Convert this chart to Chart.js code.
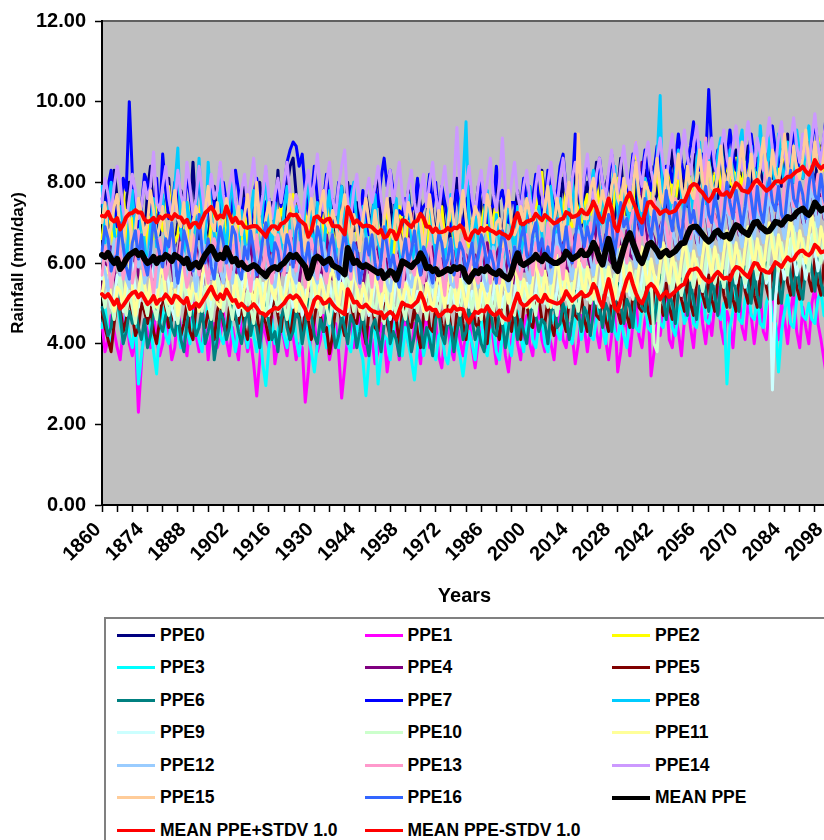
<!DOCTYPE html>
<html>
<head>
<meta charset="utf-8">
<script src="https://cdn.jsdelivr.net/npm/chart.js"></script>
<style>
html, body { margin: 0; padding: 0; overflow: hidden; background: #fff; width: 824px; height: 840px; }
#wrap { position: absolute; left: 0; top: 0; width: 850px; height: 615px; }
#legend { position: absolute; left: 104px; top: 617px; width: 760px; height: 240px; box-sizing: border-box;
  border: 2px solid #808080; background: #fff; padding-left: 11px; display: flex; flex-wrap: wrap; align-content: flex-start;
  font: bold 17.5px "Liberation Sans", Arial, sans-serif; color: #000; }
.item { width: 247.5px; height: 32.5px; display: flex; align-items: center; white-space: nowrap; }
.sw { display: inline-block; width: 38px; height: 3px; margin-right: 5px; }
</style>
</head>
<body>
<div id="wrap"><canvas id="myChart" width="850" height="615"></canvas></div>
<div id="legend"></div>
<script>
const firstYear = 1860
const lastYear = 2099

const seriesNames = ['PPE0', 'PPE1', 'PPE2', 'PPE3', 'PPE4', 'PPE5', 'PPE6', 'PPE7', 'PPE8', 'PPE9',
    'PPE10', 'PPE11', 'PPE12', 'PPE13', 'PPE14', 'PPE15', 'PPE16']
const seriesColors = ['#000080', '#FF00FF', '#FFFF00', '#00FFFF', '#800080', '#800000', '#008080', '#0000FF', '#00CCFF', '#CCFFFF',
    '#CCFFCC', '#FFFF99', '#99CCFF', '#FF99CC', '#CC99FF', '#FFCC99', '#3366FF']

const yTicks = [0, 2, 4, 6, 8, 10, 12]

const ppe0 = [
    7.4, 7.9, 6.8, 7.2, 8.3, 7.6, 6.9, 6.6, 7.5, 8.0, 7.7, 6.8, 7.1, 7.3, 6.5, 7.8, 8.4, 7.0, 7.2, 6.7,
    7.6, 7.3, 8.1, 6.9, 6.4, 7.0, 7.8, 7.5, 6.8, 7.2, 8.5, 7.1, 6.6, 7.4, 7.0, 6.3, 7.7, 7.9, 7.1, 6.9,
    7.2, 6.5, 7.6, 8.2, 7.4, 7.0, 6.7, 7.9, 7.3, 6.4, 7.1, 7.8, 8.0, 6.9, 7.2, 6.6, 7.5, 7.1, 8.3, 7.0,
    6.8, 7.9, 8.4, 8.6, 7.7, 7.1, 6.9, 7.5, 8.2, 7.0, 6.6, 7.4, 7.2, 7.8, 6.7, 7.0, 7.6, 6.5, 7.3, 7.9,
    7.1, 8.0, 7.3, 6.8, 7.5, 6.4, 7.0, 7.7, 7.2, 6.9, 7.8, 8.1, 7.0, 6.6, 7.3, 7.6, 6.8, 7.4, 7.0, 6.5,
    7.3, 7.8, 7.0, 6.7, 8.0, 7.4, 6.9, 7.1, 7.9, 7.2, 6.6, 7.5, 7.7, 6.8, 7.0, 6.4, 7.3, 8.1, 7.1, 6.9,
    7.6, 7.0, 6.5, 7.2, 7.9, 7.4, 6.8, 7.1, 6.6, 7.7, 8.2, 7.0, 6.7, 7.3, 7.5, 6.9, 7.2, 7.8, 6.8, 7.0,
    7.5, 7.9, 7.1, 6.8, 7.4, 8.3, 7.6, 7.0, 7.2, 7.8, 6.9, 7.5, 8.1, 7.3, 7.0, 7.7, 8.4, 7.2, 6.9, 7.6,
    8.0, 7.4, 7.7, 8.5, 7.3, 7.0, 7.9, 8.2, 7.5, 7.1, 7.8, 8.6, 7.6, 7.2, 7.4, 8.1, 7.8, 7.0, 7.6, 8.3,
    7.9, 8.4, 7.5, 7.7, 8.6, 8.0, 7.3, 7.8, 8.8, 8.1, 7.6, 8.3, 7.9, 7.4, 8.5, 8.7, 7.8, 8.0, 8.4, 7.7,
    8.2, 8.7, 8.0, 7.6, 8.4, 9.0, 8.3, 7.9, 8.1, 8.8, 8.5, 7.8, 8.2, 8.9, 8.0, 7.7, 8.6, 8.3, 8.0, 8.7,
    8.4, 8.1, 8.9, 8.3, 7.9, 8.6, 9.2, 8.2, 8.0, 8.7, 8.5, 8.1, 8.8, 9.0, 8.3, 8.0, 8.6, 8.9, 8.4, 8.2
]
const ppe1 = [
    4.5, 3.8, 4.1, 4.7, 4.3, 3.9, 3.6, 4.4, 4.9, 4.0, 3.7, 4.2, 2.3, 3.5, 4.6, 4.3, 3.9, 4.8, 4.1, 3.7,
    4.0, 4.6, 4.3, 3.6, 3.9, 4.8, 4.4, 4.1, 3.7, 4.5, 5.0, 4.2, 3.8, 4.0, 4.7, 3.6, 4.3, 4.5, 3.9, 4.2,
    4.8, 4.1, 3.7, 4.4, 4.0, 3.6, 4.6, 4.3, 3.8, 4.1, 3.5, 2.7, 3.6, 4.5, 4.2, 3.9, 4.7, 3.5, 4.0, 4.4,
    4.1, 3.7, 4.5, 4.2, 3.6, 4.0, 3.9, 2.55, 3.3, 4.4, 4.6, 3.8, 4.1, 4.7, 4.2, 3.6, 4.0, 4.5, 3.8, 2.65,
    3.4, 4.2, 4.6, 3.9, 4.3, 4.8, 4.0, 3.7, 4.4, 4.1, 3.5, 3.8, 4.5, 4.2, 3.3, 3.9, 4.7, 4.3, 3.6, 4.0,
    4.6, 4.0, 3.8, 4.5, 4.1, 3.5, 4.3, 4.7, 3.9, 4.0, 4.6, 3.7, 3.4, 4.2, 4.4, 3.9, 3.6, 4.5, 4.1, 3.7,
    4.3, 4.7, 3.9, 3.4, 4.0, 4.5, 4.2, 3.8, 4.6, 4.1, 3.5, 4.3, 4.4, 3.7, 3.3, 4.1, 4.6, 4.0, 3.6, 4.4,
    4.7, 4.0, 3.7, 4.5, 4.9, 4.1, 3.8, 4.3, 4.0, 3.6, 4.4, 4.8, 4.1, 3.9, 4.5, 4.2, 3.5, 4.0, 4.7, 4.4,
    3.8, 4.4, 5.0, 4.3, 3.9, 4.6, 4.1, 3.6, 4.2, 4.8, 3.3, 3.8, 4.6, 4.4, 3.7, 4.5, 5.1, 4.2, 3.9, 4.6,
    4.9, 3.2, 3.8, 4.5, 4.2, 4.8, 5.2, 4.1, 3.9, 4.7, 4.3, 3.7, 4.6, 5.0, 4.4, 3.9, 4.8, 5.3, 4.5, 4.0,
    4.7, 4.2, 5.0, 5.4, 4.4, 4.0, 4.8, 4.5, 3.9, 4.9, 5.3, 4.4, 4.1, 5.0, 4.7, 4.0, 4.6, 5.2, 4.3, 4.1,
    4.9, 5.4, 4.5, 4.1, 5.0, 4.6, 4.0, 4.8, 5.3, 4.3, 3.9, 4.9, 4.4, 4.0, 5.0, 5.4, 4.5, 4.1, 3.6, 3.1
]
const ppe2 = [
    6.6, 7.2, 7.5, 6.9, 6.3, 7.0, 7.4, 7.8, 6.7, 6.5, 7.1, 6.8, 7.6, 7.0, 6.4, 6.9, 7.3, 6.6, 7.7, 7.1,
    6.8, 7.4, 7.9, 7.0, 6.5, 6.7, 7.3, 7.1, 6.4, 7.5, 6.9, 6.6, 7.2, 7.6, 6.8, 6.3, 7.0, 7.4, 6.7, 6.9,
    7.3, 6.7, 6.4, 7.1, 7.5, 6.9, 6.6, 7.2, 6.5, 7.0, 7.6, 6.8, 6.3, 6.9, 7.4, 7.0, 6.6, 7.2, 6.8, 7.5,
    6.9, 6.4, 7.2, 7.7, 7.3, 6.8, 7.0, 6.5, 7.4, 6.7, 6.3, 7.1, 7.5, 6.9, 6.6, 7.3, 6.8, 6.4, 7.0, 7.6,
    7.0, 6.6, 6.9, 7.4, 6.7, 6.3, 7.1, 7.5, 6.8, 6.5, 7.2, 6.9, 6.4, 7.0, 7.3, 6.6, 6.2, 6.9, 7.4, 6.8,
    6.5, 7.1, 6.8, 6.3, 7.0, 7.3, 6.7, 6.4, 7.2, 6.9, 6.5, 7.0, 7.4, 6.6, 6.9, 7.2, 6.5, 6.3, 7.1, 6.8,
    6.7, 6.4, 7.0, 7.3, 6.6, 6.9, 7.4, 6.8, 6.5, 7.1, 7.5, 6.7, 6.4, 6.9, 7.3, 7.0, 6.6, 7.2, 6.8, 6.5,
    7.1, 7.5, 6.9, 7.3, 7.7, 8.25, 7.2, 6.8, 7.4, 7.0, 6.7, 7.5, 7.2, 7.8, 7.0, 6.9, 7.6, 7.3, 7.0, 7.4,
    7.7, 7.2, 7.5, 8.0, 7.4, 7.1, 7.8, 7.3, 7.0, 7.6, 8.1, 7.4, 7.2, 7.9, 7.5, 7.3, 9.0, 7.7, 7.4, 7.9,
    8.1, 7.5, 7.8, 8.3, 7.6, 7.4, 8.0, 8.4, 7.7, 7.5, 8.1, 7.8, 7.6, 8.3, 8.0, 7.6, 8.2, 8.6, 7.9, 7.7,
    8.3, 7.9, 8.2, 8.6, 7.8, 8.1, 8.5, 8.0, 7.9, 8.6, 8.2, 7.9, 8.5, 8.3, 8.9, 8.6, 8.1, 8.4, 8.7, 8.2,
    8.0, 8.5, 8.8, 8.2, 8.4, 8.9, 8.3, 8.1, 8.6, 9.0, 8.4, 8.2, 8.7, 8.5, 8.1, 8.8, 9.1, 8.5, 8.3, 8.7
]
const ppe3 = [
    4.4, 4.9, 4.3, 3.9, 4.6, 5.1, 4.5, 4.0, 4.8, 4.2, 3.9, 4.6, 3.0, 3.7, 4.3, 4.9, 4.4, 3.8, 3.25, 4.4,
    4.9, 4.2, 4.0, 4.7, 5.0, 4.3, 3.9, 4.6, 4.4, 4.0, 4.8, 4.5, 4.1, 3.8, 4.5, 5.0, 4.3, 4.0, 4.7, 4.2,
    4.0, 4.5, 4.8, 4.2, 3.8, 4.4, 4.9, 4.3, 3.9, 4.6, 4.2, 3.8, 4.4, 3.5, 2.96, 3.9, 4.6, 4.0, 4.3, 4.7,
    4.2, 3.9, 4.6, 4.9, 4.1, 3.7, 4.4, 4.8, 4.2, 3.8, 3.3, 4.0, 4.5, 4.3, 3.9, 4.6, 4.8, 4.1, 3.9, 4.5,
    4.7, 4.0, 3.8, 4.4, 4.5, 3.9, 3.6, 2.71, 3.6, 4.3, 4.4, 3.0, 3.7, 4.2, 4.1, 3.6, 4.3, 4.7, 4.0, 3.7,
    4.4, 4.0, 3.6, 3.1, 3.9, 4.4, 3.7, 4.1, 4.5, 3.8, 3.6, 4.2, 4.3, 3.7, 3.5, 4.1, 4.4, 4.0, 3.7, 3.2,
    3.8, 4.3, 4.0, 3.6, 4.4, 4.6, 3.9, 3.7, 4.3, 4.4, 3.8, 3.6, 4.2, 4.5, 4.0, 3.7, 4.5, 4.8, 4.2, 3.8,
    4.4, 4.8, 4.1, 3.9, 4.5, 4.6, 4.0, 3.8, 4.4, 4.7, 4.3, 4.1, 4.7, 4.9, 4.2, 4.0, 4.6, 4.8, 4.1, 4.5,
    4.8, 4.2, 4.1, 4.6, 5.0, 4.4, 4.0, 4.7, 4.9, 4.3, 4.1, 4.6, 4.2, 3.9, 4.7, 5.1, 4.4, 4.3, 4.9, 5.0,
    4.4, 4.3, 4.8, 5.2, 4.5, 4.4, 4.9, 5.1, 4.4, 4.2, 4.8, 5.0, 4.5, 4.7, 5.2, 4.5, 4.4, 5.0, 5.3, 4.6,
    4.5, 4.9, 5.4, 4.7, 4.6, 5.0, 3.0, 4.4, 4.8, 5.3, 4.6, 4.5, 5.1, 5.4, 4.7, 4.6, 5.1, 4.5, 4.4, 5.0,
    5.3, 4.6, 4.5, 3.3, 4.3, 4.8, 5.2, 4.5, 4.4, 5.1, 5.4, 4.7, 4.6, 5.0, 4.6, 4.5, 5.1, 5.3, 4.7, 4.6
]
const ppe4 = [
    5.3, 6.0, 5.7, 6.4, 5.9, 5.2, 5.8, 6.3, 6.1, 5.5, 5.9, 6.6, 5.7, 5.4, 6.2, 5.8, 6.0, 5.3, 5.9, 6.5,
    6.0, 5.6, 6.3, 5.9, 5.4, 6.1, 6.7, 5.8, 5.5, 6.0, 5.7, 6.4, 6.1, 5.4, 5.8, 6.2, 5.6, 6.0, 6.5, 5.7,
    5.5, 6.1, 6.4, 5.8, 5.6, 6.2, 5.9, 5.3, 6.0, 6.5, 5.8, 5.5, 6.3, 5.9, 5.6, 6.1, 6.6, 5.7, 5.4, 6.0,
    6.2, 5.7, 5.9, 6.6, 6.0, 5.5, 6.1, 5.8, 5.3, 6.2, 6.5, 5.9, 5.6, 6.0, 6.7, 6.1, 5.6, 6.2, 5.8, 5.4,
    6.0, 5.6, 5.8, 6.3, 6.5, 5.7, 5.4, 6.0, 5.9, 5.2, 5.8, 6.4, 5.9, 5.5, 6.1, 5.7, 5.3, 5.9, 6.3, 5.8,
    5.6, 6.2, 7.35, 6.3, 5.7, 5.9, 5.8, 5.2, 6.0, 6.4, 5.6, 5.5, 6.1, 5.7, 5.3, 5.9, 6.3, 5.8, 5.3, 6.1,
    6.2, 5.7, 5.6, 6.2, 5.8, 5.2, 6.0, 6.5, 5.7, 5.6, 6.2, 6.4, 5.8, 5.7, 6.3, 5.7, 5.5, 6.1, 6.3, 5.8,
    5.8, 6.3, 6.5, 5.9, 5.8, 6.4, 5.8, 5.7, 6.3, 6.6, 6.0, 5.9, 6.5, 5.9, 5.8, 6.4, 6.7, 6.1, 6.0, 6.6,
    6.2, 5.9, 6.4, 7.0, 6.2, 6.1, 6.7, 6.1, 6.0, 6.6, 6.9, 6.3, 6.2, 6.8, 6.2, 6.1, 6.7, 7.0, 8.5, 6.9,
    6.5, 6.8, 6.6, 6.1, 6.9, 7.1, 6.5, 6.4, 7.0, 6.4, 6.3, 6.9, 7.2, 6.6, 6.5, 7.1, 6.5, 6.4, 7.0, 7.3,
    6.7, 6.6, 7.2, 6.6, 6.5, 7.1, 7.4, 6.8, 6.7, 7.3, 6.7, 6.6, 7.2, 7.5, 6.9, 6.8, 7.4, 6.8, 6.7, 7.3,
    7.6, 7.0, 6.9, 7.5, 6.9, 6.8, 7.4, 7.7, 7.1, 7.0, 7.6, 7.0, 6.9, 7.5, 7.8, 7.2, 7.1, 7.7, 7.1, 7.0
]
const ppe5 = [
    4.8, 4.4, 4.1, 3.8, 4.5, 5.1, 4.9, 4.3, 4.6, 5.2, 4.7, 4.2, 4.4, 5.0, 4.8, 4.5, 4.9, 4.3, 4.0, 4.6,
    5.2, 4.9, 4.4, 4.6, 5.1, 4.7, 4.2, 4.5, 5.0, 4.3, 4.1, 4.9, 5.2, 4.6, 4.4, 4.8, 4.5, 4.1, 4.8, 5.1,
    4.5, 4.2, 4.9, 5.0, 4.6, 4.5, 5.0, 4.4, 4.1, 4.7, 5.3, 4.8, 4.2, 4.7, 4.5, 4.1, 4.8, 5.2, 4.7, 4.3,
    5.0, 4.6, 4.1, 4.7, 5.2, 4.7, 4.2, 4.8, 4.6, 4.1, 4.6, 5.1, 4.7, 4.3, 4.4, 3.75, 4.2, 4.9, 5.0, 4.5,
    4.2, 4.9, 5.1, 4.6, 4.5, 5.0, 4.4, 4.0, 4.8, 5.1, 4.4, 4.3, 4.9, 5.0, 4.5, 4.2, 5.0, 4.6, 4.0, 4.8,
    4.9, 4.5, 4.4, 4.9, 4.3, 3.9, 4.7, 5.1, 4.4, 4.3, 4.9, 5.0, 4.5, 4.2, 5.0, 4.4, 4.0, 4.8, 5.1, 4.5,
    4.1, 4.9, 5.0, 4.5, 4.4, 5.0, 4.6, 4.0, 4.8, 5.1, 4.4, 4.1, 4.9, 5.3, 4.6, 4.3, 5.0, 4.6, 4.1, 4.9,
    5.0, 4.5, 4.4, 5.0, 5.1, 4.6, 4.5, 5.1, 4.5, 4.2, 4.9, 5.3, 4.6, 4.3, 5.1, 5.2, 4.7, 4.6, 5.2, 4.6,
    4.3, 5.1, 5.2, 4.7, 4.6, 5.2, 4.6, 4.3, 5.1, 5.3, 4.8, 4.5, 5.3, 4.7, 4.4, 5.2, 5.4, 4.9, 4.8, 5.4,
    4.8, 4.5, 5.3, 5.5, 5.0, 4.7, 5.5, 4.9, 4.6, 5.4, 5.6, 5.1, 4.8, 5.6, 5.0, 4.7, 5.5, 5.7, 5.2, 4.9,
    5.7, 5.1, 4.8, 5.6, 5.8, 5.2, 4.9, 5.7, 5.1, 4.8, 5.6, 5.9, 5.3, 5.0, 5.8, 5.2, 4.9, 5.7, 6.0, 5.4,
    5.1, 5.9, 5.3, 5.0, 5.8, 6.1, 5.5, 5.2, 6.0, 5.4, 5.1, 5.9, 6.2, 5.6, 5.3, 6.1, 5.5, 5.2, 6.0, 6.3
]
const ppe6 = [
    4.9, 4.6, 4.2, 4.4, 5.1, 5.3, 4.7, 4.0, 4.3, 4.8, 4.5, 4.9, 4.4, 4.1, 4.6, 3.9, 4.2, 4.7, 5.0, 4.5,
    4.3, 4.7, 4.9, 4.4, 4.2, 4.8, 4.1, 3.8, 4.5, 5.0, 4.6, 4.2, 4.4, 4.9, 4.0, 4.3, 4.7, 3.6, 4.1, 4.8,
    4.6, 4.1, 4.4, 5.0, 4.7, 4.3, 4.0, 4.5, 4.9, 4.2, 4.6, 4.4, 3.9, 4.7, 5.1, 4.5, 4.1, 4.3, 3.8, 4.6,
    4.9, 4.4, 4.1, 4.3, 4.8, 4.6, 4.0, 4.5, 5.1, 4.7, 4.2, 4.0, 4.6, 4.3, 4.8, 5.0, 4.4, 3.9, 4.2, 4.7,
    4.4, 4.0, 4.7, 4.5, 3.9, 4.3, 4.8, 4.1, 3.7, 4.4, 4.6, 4.2, 3.8, 4.5, 4.9, 4.0, 4.3, 4.1, 3.7, 4.5,
    4.8, 4.4, 3.8, 4.2, 4.7, 4.5, 3.9, 4.4, 4.1, 3.7, 4.6, 4.8, 4.2, 4.0, 4.6, 4.4, 3.8, 4.3, 4.7, 4.1,
    4.3, 4.9, 4.6, 4.1, 4.4, 4.0, 3.8, 4.6, 5.0, 4.3, 4.2, 4.8, 4.5, 3.9, 4.4, 4.9, 4.7, 4.1, 4.6, 4.3,
    4.0, 4.6, 5.1, 4.7, 4.3, 4.6, 4.5, 4.0, 4.8, 5.0, 4.4, 4.5, 5.0, 4.7, 4.1, 4.6, 5.3, 4.8, 4.3, 4.9,
    4.7, 4.2, 4.8, 5.4, 4.9, 4.4, 5.0, 4.8, 4.3, 4.9, 5.5, 5.0, 4.5, 5.1, 4.9, 4.4, 5.2, 5.4, 4.9, 4.8,
    5.4, 4.8, 4.5, 5.1, 5.7, 5.1, 4.6, 5.2, 5.0, 4.5, 5.3, 5.6, 5.2, 4.7, 5.5, 5.1, 4.6, 5.4, 5.7, 5.3,
    4.8, 5.6, 5.2, 4.7, 5.5, 5.8, 5.4, 4.9, 5.7, 5.3, 4.8, 5.6, 5.9, 5.5, 5.0, 5.8, 5.2, 4.9, 5.7, 6.0,
    5.4, 5.1, 5.9, 5.5, 5.0, 5.8, 6.1, 5.7, 5.2, 6.0, 5.4, 5.1, 5.9, 6.2, 5.8, 5.3, 6.1, 5.5, 5.2, 5.8
]
const ppe7 = [
    7.6, 7.2, 7.9, 8.3, 7.5, 6.9, 7.1, 8.1, 7.8, 10.0, 8.2, 7.3, 6.9, 7.4, 8.2, 8.0, 7.2, 7.5, 8.1, 7.0,
    8.7, 7.8, 7.1, 7.3, 8.0, 7.6, 6.8, 7.2, 8.2, 7.7, 7.0, 7.5, 8.1, 7.4, 6.9, 7.3, 7.9, 7.5, 6.8, 7.4,
    8.0, 7.5, 7.0, 7.4, 8.3, 7.8, 7.1, 7.6, 7.2, 6.9, 7.7, 8.1, 7.4, 7.0, 7.5, 7.6, 6.9, 7.3, 8.0, 7.4,
    7.8, 8.5, 8.8, 9.0, 8.9, 8.4, 8.7, 7.8, 7.2, 7.6, 8.4, 7.6, 7.1, 7.5, 8.2, 7.5, 7.0, 7.3, 8.0, 7.4,
    6.9, 7.3, 7.9, 7.3, 6.8, 7.1, 7.8, 7.2, 6.7, 7.0, 7.9, 7.4, 8.1, 8.6, 7.9, 8.3, 7.8, 7.1, 7.3, 7.2,
    7.6, 7.1, 7.3, 7.4, 8.1, 7.2, 7.4, 7.5, 8.2, 7.4, 8.0, 7.2, 7.9, 7.5, 7.1, 6.8, 7.3, 7.8, 7.3, 6.9,
    7.2, 7.9, 7.3, 6.9, 7.3, 8.1, 7.5, 7.0, 7.4, 7.4, 8.4, 7.6, 7.8, 7.3, 7.0, 7.5, 7.5, 7.0, 7.4, 8.1,
    7.5, 7.0, 7.6, 8.2, 7.6, 7.1, 7.5, 8.3, 7.7, 7.3, 7.7, 8.4, 8.7, 7.8, 7.4, 7.8, 9.2, 7.9, 7.3, 8.1,
    8.5, 7.9, 7.5, 7.9, 8.6, 8.0, 7.6, 8.0, 8.7, 8.1, 7.7, 8.1, 7.9, 7.6, 8.0, 8.7, 8.1, 7.7, 8.2, 8.8,
    8.1, 7.8, 8.3, 8.9, 8.3, 7.9, 8.4, 8.4, 8.0, 8.5, 9.2, 8.5, 8.1, 8.5, 8.9, 9.5, 8.7, 8.3, 8.7, 8.5,
    10.3, 8.8, 8.3, 8.8, 8.7, 8.2, 8.6, 9.3, 8.7, 8.3, 8.7, 8.6, 8.2, 8.6, 9.2, 8.6, 8.3, 8.8, 8.8, 8.4,
    8.8, 9.4, 8.8, 8.4, 8.8, 8.7, 8.3, 8.7, 9.3, 8.7, 8.4, 8.9, 8.8, 8.5, 9.0, 9.5, 8.9, 8.6, 9.1, 9.9
]
const ppe8 = [
    7.9, 6.5, 7.2, 8.0, 6.8, 6.2, 7.4, 6.6, 5.9, 7.1, 7.8, 6.7, 6.1, 7.3, 6.5, 5.8, 6.9, 7.6, 6.4, 7.0,
    7.7, 6.6, 6.0, 7.2, 7.9, 8.85, 6.8, 6.2, 7.5, 7.0, 6.4, 7.3, 8.6, 7.1, 6.5, 8.5, 7.2, 6.7, 6.1, 8.4,
    6.9, 6.3, 7.5, 8.1, 6.8, 6.2, 7.3, 6.6, 6.0, 7.2, 7.8, 6.7, 6.1, 7.4, 8.3, 6.9, 6.3, 7.5, 6.8, 6.2,
    7.3, 7.9, 6.7, 6.1, 7.4, 6.8, 6.2, 7.6, 8.0, 6.9, 6.3, 7.5, 6.7, 6.1, 7.2, 7.8, 6.6, 6.0, 7.3, 7.9,
    6.8, 6.2, 7.6, 8.0, 6.9, 6.3, 7.4, 6.7, 6.0, 7.1, 7.7, 6.6, 6.0, 7.2, 6.5, 5.9, 7.0, 7.6, 6.4, 5.8,
    7.1, 7.7, 6.6, 6.0, 7.2, 6.5, 5.9, 7.0, 7.6, 6.8, 6.2, 7.3, 6.6, 6.0, 7.1, 7.7, 6.7, 6.1, 7.4, 8.0,
    9.5, 6.9, 6.3, 7.3, 6.6, 6.0, 7.1, 7.8, 6.7, 6.1, 7.2, 6.5, 5.9, 7.0, 7.6, 6.8, 6.2, 7.4, 6.7, 6.1,
    7.3, 7.9, 6.8, 6.2, 7.4, 6.7, 6.1, 7.3, 7.9, 7.0, 6.4, 7.6, 6.9, 6.3, 7.5, 8.1, 7.0, 6.5, 7.7, 7.1,
    6.6, 7.8, 8.3, 7.2, 6.7, 7.9, 7.2, 6.6, 7.8, 8.4, 7.3, 6.8, 8.0, 7.4, 6.8, 7.9, 8.5, 7.5, 6.9, 8.1,
    7.5, 6.9, 8.1, 8.6, 10.15, 7.0, 8.2, 7.6, 7.0, 8.3, 8.8, 7.7, 7.1, 8.4, 7.8, 7.2, 8.5, 9.0, 7.9, 7.3,
    8.6, 8.0, 7.4, 8.7, 9.1, 8.0, 7.5, 8.8, 8.2, 7.6, 8.9, 9.3, 8.1, 7.7, 8.9, 8.3, 7.7, 9.4, 8.4, 7.8,
    9.1, 8.4, 7.9, 9.2, 8.5, 7.9, 9.0, 8.6, 8.0, 9.3, 8.7, 8.1, 8.9, 9.4, 8.2, 8.6, 9.0, 8.3, 8.8, 9.2
]
const ppe9 = [
    5.6, 5.9, 5.3, 4.9, 5.1, 5.7, 5.4, 4.8, 5.2, 5.8, 6.0, 5.3, 4.9, 5.4, 5.1, 4.7, 5.5, 5.9, 5.2, 5.0,
    5.3, 5.8, 5.5, 4.9, 4.6, 5.2, 5.7, 5.9, 5.1, 4.8, 5.3, 5.6, 5.0, 5.4, 6.0, 5.5, 4.9, 5.1, 5.7, 5.3,
    4.9, 5.4, 5.8, 5.6, 5.0, 4.7, 5.3, 5.9, 5.4, 5.1, 5.6, 5.0, 4.8, 5.5, 5.2, 4.7, 5.1, 5.7, 5.5, 4.9,
    5.2, 5.7, 5.4, 4.9, 5.6, 5.3, 4.7, 5.0, 5.8, 5.5, 4.9, 5.2, 5.7, 5.4, 5.0, 5.5, 5.1, 4.8, 5.4, 5.9,
    5.3, 4.8, 5.2, 5.8, 5.5, 4.9, 5.3, 5.1, 4.7, 5.0, 5.6, 5.4, 4.8, 5.2, 5.1, 4.6, 5.0, 5.6, 5.3, 4.9,
    5.2, 5.7, 5.4, 4.9, 5.3, 5.1, 4.8, 5.2, 5.7, 5.3, 4.9, 5.2, 5.8, 5.4, 5.0, 5.4, 5.1, 4.8, 5.2, 5.7,
    5.4, 4.9, 5.3, 5.1, 4.7, 5.1, 5.7, 5.3, 4.8, 5.2, 5.8, 5.5, 4.9, 5.3, 5.2, 4.8, 5.2, 5.8, 5.4, 5.0,
    5.5, 5.2, 4.9, 5.3, 5.9, 5.5, 5.0, 5.4, 5.3, 4.9, 5.3, 5.9, 5.5, 5.1, 5.5, 5.3, 5.0, 5.4, 6.0, 5.6,
    5.1, 5.5, 5.4, 5.0, 5.4, 6.0, 5.6, 5.2, 5.6, 5.5, 5.1, 5.5, 6.1, 5.7, 5.2, 5.6, 5.5, 5.1, 5.6, 6.1,
    5.7, 5.3, 5.7, 5.6, 5.2, 5.6, 6.2, 5.8, 5.3, 5.7, 5.7, 5.2, 5.6, 6.2, 5.9, 5.4, 5.8, 5.8, 5.3, 5.7,
    6.3, 6.0, 5.5, 5.9, 5.8, 5.4, 5.8, 6.4, 6.0, 5.5, 5.9, 5.9, 5.4, 5.8, 6.5, 6.1, 5.6, 6.0, 6.0, 5.5,
    5.9, 2.85, 5.1, 6.0, 6.0, 5.6, 6.0, 6.6, 6.2, 5.7, 6.1, 6.1, 5.6, 6.0, 6.7, 6.3, 5.8, 6.2, 6.2, 5.7
]
const ppe10 = [
    5.3, 4.9, 5.5, 5.0, 4.6, 5.2, 5.7, 5.0, 4.7, 5.3, 4.9, 4.5, 5.1, 5.6, 5.0, 4.7, 5.4, 4.9, 4.6, 5.2,
    5.6, 5.0, 4.7, 5.3, 4.9, 4.5, 5.1, 5.6, 5.0, 4.7, 5.4, 5.8, 5.1, 4.8, 5.4, 5.0, 4.6, 5.2, 5.7, 5.1,
    4.8, 5.4, 5.0, 4.6, 5.2, 5.7, 5.1, 4.7, 5.3, 4.9, 4.5, 5.1, 5.6, 5.0, 4.7, 5.3, 5.8, 5.2, 4.8, 5.4,
    5.0, 4.6, 5.2, 5.7, 5.1, 4.8, 5.4, 5.0, 4.6, 5.2, 5.7, 5.1, 4.7, 5.3, 4.9, 4.5, 5.1, 5.6, 5.0, 4.7,
    5.3, 5.8, 5.2, 4.8, 5.4, 5.0, 4.6, 5.2, 5.7, 5.1, 4.7, 5.3, 4.9, 4.5, 5.1, 5.6, 5.0, 4.7, 5.3, 4.9,
    4.6, 5.2, 5.7, 5.1, 4.8, 5.4, 5.0, 4.6, 5.2, 5.7, 5.1, 4.7, 5.3, 4.9, 4.5, 5.1, 5.6, 5.0, 4.7, 5.3,
    5.8, 5.2, 4.8, 5.4, 5.0, 4.6, 5.2, 5.7, 5.1, 4.7, 5.3, 4.9, 4.5, 5.1, 5.6, 5.0, 4.7, 5.3, 5.8, 5.2,
    4.9, 5.5, 5.1, 4.7, 5.3, 5.8, 5.2, 4.9, 5.5, 5.1, 4.7, 5.3, 5.9, 5.3, 4.9, 5.5, 5.1, 4.8, 5.4, 5.9,
    5.3, 5.0, 5.6, 5.2, 4.9, 5.5, 6.0, 5.4, 5.0, 5.7, 5.3, 4.9, 5.6, 6.1, 5.5, 5.1, 5.8, 5.4, 5.0, 5.7,
    6.2, 5.6, 4.0, 3.8, 5.2, 5.8, 6.3, 5.7, 5.3, 6.0, 5.6, 5.2, 5.9, 6.4, 5.8, 5.4, 6.1, 5.7, 5.3, 6.0,
    6.5, 5.9, 5.5, 6.2, 5.8, 5.4, 6.1, 6.6, 6.0, 5.6, 6.3, 5.9, 5.5, 6.2, 6.7, 6.1, 5.7, 6.4, 6.0, 5.6,
    6.3, 6.8, 6.2, 5.8, 6.5, 6.1, 5.7, 6.4, 6.9, 6.3, 5.9, 6.6, 6.2, 5.8, 6.5, 7.0, 6.4, 6.0, 6.7, 6.3
]
const ppe11 = [
    5.2, 5.7, 5.9, 5.1, 4.8, 5.4, 5.3, 4.9, 5.6, 6.0, 5.4, 4.7, 5.3, 5.8, 5.5, 5.0, 5.6, 5.1, 4.9, 5.7,
    5.9, 5.2, 5.0, 5.5, 5.4, 4.7, 5.3, 6.0, 5.6, 5.1, 5.5, 5.2, 4.8, 5.7, 6.0, 5.3, 5.1, 5.6, 5.0, 4.9,
    5.6, 5.8, 5.2, 5.0, 5.7, 5.1, 4.9, 5.4, 6.0, 5.5, 4.9, 5.6, 5.4, 4.8, 5.5, 5.9, 5.3, 5.1, 5.8, 5.2,
    5.0, 5.4, 5.9, 5.4, 4.8, 5.5, 5.3, 4.9, 5.4, 5.9, 5.4, 4.9, 5.6, 5.3, 4.9, 5.6, 5.9, 5.3, 4.9, 5.5,
    5.3, 4.9, 5.4, 5.9, 5.4, 4.8, 5.5, 5.2, 4.8, 5.3, 5.8, 5.3, 4.9, 5.6, 5.0, 4.8, 5.5, 5.8, 5.2, 5.0,
    5.5, 5.3, 4.9, 5.4, 5.9, 5.4, 4.8, 5.5, 5.2, 4.8, 5.3, 5.8, 5.3, 4.9, 5.4, 5.9, 5.5, 4.9, 5.6, 5.3,
    4.9, 5.4, 5.9, 5.4, 4.8, 5.5, 5.3, 4.9, 5.4, 5.9, 5.5, 4.9, 5.6, 5.4, 5.0, 5.5, 6.0, 5.5, 5.1, 5.6,
    5.3, 4.9, 5.6, 6.1, 5.5, 5.1, 5.8, 5.3, 4.9, 5.6, 6.2, 5.5, 5.1, 5.8, 5.4, 5.0, 5.7, 6.2, 5.6, 5.2,
    5.9, 5.5, 5.1, 5.8, 6.3, 5.6, 5.2, 5.9, 5.5, 5.1, 5.8, 6.4, 5.7, 5.3, 6.0, 5.6, 5.2, 5.9, 6.4, 5.8,
    5.4, 6.1, 5.7, 5.3, 6.0, 6.5, 5.9, 5.5, 6.2, 5.8, 5.4, 6.1, 6.6, 6.0, 5.6, 6.3, 5.9, 5.5, 6.2, 6.7,
    6.1, 5.7, 6.4, 6.0, 5.6, 6.3, 6.8, 6.2, 5.8, 6.5, 6.1, 5.7, 6.4, 6.9, 6.3, 5.9, 6.6, 6.2, 5.8, 6.5,
    7.0, 6.4, 6.0, 6.7, 6.3, 5.9, 6.6, 7.1, 6.5, 6.1, 6.8, 6.4, 6.0, 6.7, 7.2, 6.6, 6.2, 6.9, 6.5, 6.1
]
const ppe12 = [
    6.1, 5.8, 5.3, 5.9, 6.6, 6.0, 5.7, 6.3, 5.6, 5.4, 6.2, 6.5, 5.9, 6.1, 5.5, 5.8, 6.4, 6.0, 5.4, 6.1,
    6.3, 5.7, 6.0, 6.5, 5.4, 5.7, 6.4, 6.2, 5.6, 6.1, 5.9, 5.3, 6.0, 6.7, 6.1, 5.7, 5.6, 6.2, 6.4, 5.8,
    5.5, 6.1, 6.0, 5.5, 6.2, 6.5, 5.9, 5.8, 6.4, 5.8, 5.6, 6.1, 6.3, 5.7, 5.6, 6.2, 5.6, 5.4, 6.0, 6.3,
    5.9, 5.8, 6.4, 5.7, 5.5, 6.1, 6.4, 6.0, 5.7, 6.3, 5.7, 5.5, 6.2, 6.5, 5.9, 5.8, 6.4, 5.8, 5.6, 6.1,
    6.3, 5.7, 5.6, 6.2, 5.6, 5.4, 6.0, 6.3, 5.9, 5.7, 6.3, 5.7, 5.5, 6.1, 5.5, 5.3, 5.9, 6.2, 5.8, 5.6,
    6.2, 5.6, 5.4, 6.0, 6.3, 5.7, 5.6, 6.2, 5.6, 5.4, 6.0, 6.3, 5.7, 5.6, 6.1, 5.5, 5.4, 6.0, 6.2, 5.7,
    5.5, 6.0, 6.5, 5.9, 5.4, 6.0, 5.6, 5.3, 5.9, 6.4, 5.8, 5.5, 6.1, 5.7, 5.3, 5.9, 6.4, 6.0, 5.6, 6.2,
    5.8, 5.5, 6.1, 6.6, 6.0, 5.7, 6.3, 5.9, 5.5, 6.1, 6.7, 6.1, 5.8, 6.4, 6.0, 5.6, 6.2, 6.8, 6.2, 5.9,
    6.5, 6.1, 5.7, 6.3, 6.9, 6.3, 5.9, 6.6, 6.2, 5.8, 6.4, 7.0, 6.4, 6.0, 6.7, 6.3, 5.9, 6.5, 7.1, 6.5,
    6.1, 6.8, 6.4, 6.0, 6.7, 7.2, 6.6, 6.2, 6.9, 6.5, 6.1, 6.8, 7.3, 6.7, 6.3, 7.0, 6.6, 6.2, 6.9, 7.4,
    6.8, 6.4, 7.1, 6.7, 6.3, 7.0, 7.5, 6.9, 6.5, 7.2, 6.8, 6.4, 7.1, 7.6, 7.0, 6.6, 7.3, 6.9, 6.5, 7.2,
    7.7, 7.1, 6.7, 7.4, 7.0, 6.6, 7.3, 7.8, 7.2, 6.8, 7.5, 7.1, 6.7, 7.4, 7.9, 7.3, 6.9, 7.6, 7.2, 6.8
]
const ppe13 = [
    5.7, 6.4, 6.1, 5.4, 5.8, 6.6, 6.3, 5.6, 6.0, 6.2, 5.5, 5.9, 6.8, 6.2, 5.7, 6.1, 5.8, 5.2, 6.0, 6.6,
    6.2, 5.6, 6.0, 6.9, 6.3, 5.8, 6.5, 5.9, 5.4, 5.8, 6.7, 6.2, 5.7, 6.4, 6.0, 5.5, 6.2, 6.6, 6.3, 5.8,
    6.5, 6.0, 5.6, 6.1, 6.9, 6.4, 5.8, 6.2, 5.9, 5.3, 6.0, 6.7, 6.1, 5.8, 6.4, 5.9, 5.5, 6.1, 6.7, 6.2,
    5.7, 6.3, 6.8, 6.0, 5.8, 6.5, 6.1, 5.4, 6.0, 6.6, 6.2, 5.6, 6.4, 5.9, 5.5, 6.1, 6.7, 6.0, 5.7, 6.3,
    6.7, 6.2, 5.6, 6.4, 5.9, 5.4, 6.1, 6.4, 6.0, 5.4, 6.3, 5.9, 5.3, 6.1, 6.6, 5.8, 5.6, 6.2, 5.8, 5.4,
    6.0, 6.6, 5.9, 5.7, 6.3, 5.7, 5.5, 6.2, 6.5, 5.9, 5.7, 6.3, 5.8, 5.2, 6.1, 6.6, 6.0, 5.4, 6.2, 6.6,
    6.0, 5.7, 6.4, 5.7, 5.5, 6.1, 6.5, 6.1, 5.5, 6.3, 5.7, 5.5, 6.2, 6.6, 6.2, 5.6, 6.4, 5.8, 5.6, 6.1,
    6.7, 6.3, 5.7, 6.5, 5.9, 5.7, 6.2, 7.0, 6.2, 6.0, 6.4, 6.2, 5.6, 6.5, 6.9, 6.5, 5.9, 6.7, 6.1, 5.9,
    6.6, 7.0, 6.6, 6.0, 6.9, 6.3, 6.1, 6.6, 7.4, 6.6, 6.4, 6.8, 6.6, 6.0, 6.9, 7.3, 6.9, 6.3, 7.1, 6.5,
    6.3, 6.8, 7.6, 6.8, 6.6, 7.1, 6.9, 6.3, 7.2, 7.6, 7.2, 6.6, 7.4, 6.8, 6.6, 7.1, 7.9, 7.1, 6.9, 9.1,
    6.9, 7.7, 7.1, 6.9, 7.4, 8.2, 7.4, 7.2, 7.6, 7.4, 6.8, 7.7, 8.1, 7.7, 7.1, 8.0, 7.4, 7.2, 7.7, 8.5,
    7.7, 7.5, 7.9, 7.7, 7.1, 8.0, 8.4, 8.0, 7.4, 8.2, 7.6, 7.4, 7.9, 8.7, 7.9, 7.7, 8.2, 8.0, 7.4, 8.3
]
const ppe14 = [
    7.5, 8.1, 7.7, 7.2, 7.9, 8.4, 8.0, 7.3, 7.0, 7.6, 8.2, 7.8, 7.1, 7.4, 8.0, 7.6, 7.9, 8.75, 7.5, 7.3,
    7.9, 8.4, 7.6, 7.2, 7.5, 8.3, 7.7, 7.4, 8.5, 7.9, 7.2, 7.6, 8.4, 7.8, 7.1, 7.5, 8.2, 7.6, 7.8, 8.5,
    7.7, 7.3, 7.9, 8.3, 7.5, 7.2, 7.8, 8.2, 7.4, 8.0, 8.6, 7.7, 7.2, 7.7, 8.4, 7.6, 7.1, 7.7, 8.1, 7.5,
    8.0, 8.5, 7.7, 7.3, 7.7, 7.4, 7.0, 7.8, 8.3, 7.6, 8.0, 8.7, 7.8, 7.3, 8.0, 8.5, 7.6, 7.2, 7.9, 8.4,
    8.8, 7.5, 7.1, 7.8, 8.2, 7.4, 7.0, 7.7, 8.1, 7.5, 7.9, 8.4, 7.6, 7.1, 7.8, 8.3, 7.5, 8.0, 8.5, 7.7,
    7.2, 7.9, 8.3, 7.5, 7.1, 7.8, 8.2, 7.4, 8.0, 8.5, 7.7, 7.2, 7.9, 8.4, 7.6, 7.3, 8.0, 9.36, 7.8, 7.4,
    7.9, 8.4, 7.6, 7.2, 7.9, 8.3, 7.5, 8.0, 8.6, 7.7, 7.3, 8.0, 9.1, 7.8, 7.4, 8.0, 8.5, 7.7, 7.3, 7.9,
    8.3, 7.6, 7.2, 7.9, 8.4, 7.7, 7.3, 8.0, 8.5, 7.8, 7.4, 8.1, 8.6, 7.8, 7.4, 8.1, 8.5, 7.9, 7.5, 8.2,
    8.7, 7.9, 7.5, 8.2, 8.6, 8.0, 7.6, 8.3, 8.8, 8.1, 7.7, 8.4, 8.9, 8.2, 7.8, 8.5, 9.0, 8.3, 7.9, 8.6,
    9.0, 8.3, 7.9, 8.6, 9.1, 8.4, 8.0, 8.7, 9.2, 8.5, 8.1, 8.8, 9.3, 8.6, 8.2, 8.9, 9.4, 8.7, 8.3, 9.0,
    8.6, 9.1, 8.4, 8.1, 8.8, 9.3, 8.6, 8.2, 8.9, 9.4, 8.7, 8.3, 9.0, 9.5, 8.8, 8.4, 9.1, 8.7, 8.3, 9.0,
    9.6, 8.8, 8.4, 9.1, 9.5, 8.7, 8.3, 9.0, 9.6, 8.9, 8.5, 9.2, 8.8, 8.4, 9.1, 9.7, 8.9, 8.5, 9.2, 9.6
]
const ppe15 = [
    7.0, 7.5, 6.6, 6.9, 7.4, 7.7, 6.8, 6.5, 7.3, 7.1, 6.4, 6.8, 7.6, 7.2, 6.7, 7.0, 7.8, 7.3, 6.6, 6.9,
    7.4, 6.7, 6.5, 7.2, 7.8, 7.1, 6.9, 7.5, 6.6, 6.3, 7.0, 7.4, 7.1, 6.6, 7.3, 7.9, 7.0, 6.8, 7.5, 6.7,
    7.1, 7.6, 7.2, 6.5, 6.9, 7.4, 6.7, 7.2, 7.7, 6.9, 6.6, 8.0, 7.0, 6.5, 7.1, 7.5, 6.8, 6.7, 7.3, 6.9,
    6.5, 7.0, 7.7, 7.3, 6.7, 7.2, 6.9, 6.3, 7.1, 7.6, 7.0, 6.6, 7.4, 7.8, 7.0, 6.8, 7.3, 7.0, 6.4, 7.2,
    7.7, 7.1, 6.5, 7.2, 6.9, 6.3, 7.1, 7.6, 7.0, 6.6, 7.3, 6.7, 6.4, 7.1, 7.6, 6.8, 6.6, 7.3, 6.8, 6.2,
    6.9, 7.5, 7.1, 6.5, 7.2, 7.0, 6.3, 7.0, 7.7, 7.1, 6.5, 7.3, 6.9, 6.4, 6.9, 7.6, 7.0, 6.4, 7.1, 7.8,
    7.1, 6.5, 6.9, 7.4, 7.2, 6.6, 6.8, 7.7, 7.3, 6.5, 7.0, 7.1, 6.4, 7.3, 7.8, 7.0, 6.7, 6.9, 7.4, 7.0,
    7.6, 7.2, 6.6, 7.3, 7.1, 6.8, 7.4, 7.9, 7.0, 6.9, 7.6, 7.2, 6.6, 7.5, 8.0, 7.2, 6.9, 9.2, 7.5, 7.1,
    7.1, 7.8, 8.1, 7.5, 7.3, 7.8, 7.4, 7.0, 7.9, 8.2, 7.6, 7.4, 8.1, 7.5, 7.3, 7.8, 8.5, 7.7, 7.3, 8.0,
    7.8, 7.2, 7.9, 8.6, 7.8, 7.4, 8.3, 7.7, 7.5, 8.0, 8.7, 7.9, 7.5, 8.4, 7.8, 7.6, 8.1, 8.8, 8.0, 7.6,
    8.5, 7.9, 7.7, 8.2, 8.9, 8.1, 7.7, 8.6, 8.0, 7.8, 8.3, 9.0, 8.2, 7.8, 8.7, 8.1, 7.9, 8.4, 9.1, 8.3,
    7.9, 8.8, 8.2, 8.0, 8.5, 9.2, 8.4, 8.0, 8.9, 8.3, 8.1, 8.6, 9.3, 8.5, 8.1, 9.0, 8.4, 8.2, 8.7, 9.3
]
const ppe16 = [
    6.3, 6.9, 6.6, 5.8, 6.1, 6.2, 7.0, 6.4, 5.9, 5.6, 6.5, 6.8, 6.1, 6.7, 6.0, 5.7, 6.3, 7.1, 6.6, 6.2,
    5.9, 6.6, 6.4, 7.0, 6.2, 5.5, 6.0, 6.8, 6.5, 6.1, 5.8, 6.4, 7.2, 6.3, 6.0, 6.6, 5.9, 5.6, 6.3, 6.9,
    6.5, 6.0, 6.2, 6.9, 6.7, 5.8, 5.6, 6.4, 6.1, 6.8, 6.3, 5.7, 6.0, 6.6, 7.0, 6.2, 5.9, 6.5, 6.3, 5.8,
    6.1, 6.7, 6.4, 5.9, 6.8, 7.1, 6.2, 6.0, 6.5, 5.7, 6.1, 6.9, 6.6, 6.0, 5.8, 6.4, 6.7, 6.1, 5.6, 6.3,
    6.8, 6.2, 5.8, 6.5, 6.3, 5.5, 5.9, 6.6, 6.2, 6.7, 6.0, 5.6, 6.1, 6.9, 6.4, 5.9, 6.2, 5.7, 5.4, 6.1,
    6.6, 6.0, 6.3, 6.8, 6.1, 5.7, 6.4, 6.2, 5.8, 5.5, 6.2, 6.7, 6.5, 5.9, 6.1, 6.6, 5.7, 6.0, 6.5, 6.3,
    5.8, 6.1, 6.5, 5.7, 6.2, 6.7, 6.4, 5.9, 6.3, 6.0, 5.5, 6.2, 6.8, 6.5, 6.0, 5.8, 6.4, 6.1, 6.6, 6.9,
    6.2, 6.0, 6.7, 7.0, 6.3, 6.6, 6.1, 6.4, 5.9, 6.8, 7.1, 6.5, 6.3, 6.9, 6.2, 6.0, 6.6, 7.2, 6.8, 6.4,
    6.9, 6.5, 6.8, 7.4, 6.7, 6.3, 6.6, 7.2, 7.0, 6.2, 6.8, 7.5, 6.9, 7.1, 6.6, 6.4, 7.3, 7.0, 6.7, 7.6,
    7.0, 6.6, 7.3, 6.9, 6.4, 7.1, 7.8, 7.2, 6.8, 7.5, 6.9, 6.6, 7.4, 7.7, 7.0, 7.3, 6.8, 6.7, 7.5, 7.9,
    7.2, 7.0, 7.7, 7.3, 6.7, 7.2, 8.0, 7.5, 7.1, 7.8, 7.4, 6.9, 7.4, 8.1, 7.6, 7.0, 7.9, 7.3, 7.0, 7.7,
    8.1, 7.5, 7.3, 7.9, 7.2, 7.0, 7.8, 8.3, 7.6, 7.4, 8.0, 7.7, 7.1, 7.9, 8.4, 7.7, 7.5, 8.2, 7.6, 7.3
]

const meanPPE = [
    6.2, 6.15, 6.25, 6.1, 6.0, 6.1, 5.85, 5.95, 6.1, 6.2, 6.25, 6.3, 6.2, 6.25, 6.1, 6.0, 6.05, 6.15, 6.0, 6.12,
    6.1, 6.2, 6.15, 6.05, 6.2, 6.15, 6.1, 6.0, 6.1, 5.87, 5.95, 6.0, 5.9, 6.05, 6.2, 6.3, 6.4, 6.25, 6.1, 6.2,
    6.12, 6.37, 6.2, 6.04, 6.1, 5.95, 6.0, 5.9, 5.85, 5.9, 5.95, 5.9, 5.8, 5.75, 5.67, 5.8, 5.87, 5.9, 5.85, 5.95,
    6.0, 6.1, 6.2, 6.15, 6.2, 6.1, 6.0, 5.9, 5.63, 5.8, 6.1, 6.16, 6.1, 6.0, 6.05, 6.1, 5.95, 5.9, 5.87, 5.8,
    5.72, 6.37, 6.2, 6.0, 6.05, 5.95, 5.9, 5.95, 5.9, 5.85, 5.8, 5.75, 5.8, 5.63, 5.7, 5.8, 5.75, 5.59, 5.8, 6.04,
    6.0, 5.95, 5.9, 6.0, 6.05, 6.24, 6.1, 5.87, 5.9, 5.8, 5.85, 5.72, 5.75, 5.8, 5.85, 5.8, 5.9, 5.85, 5.9, 5.85,
    5.63, 5.54, 5.7, 5.8, 5.75, 5.85, 5.8, 5.9, 5.8, 5.75, 5.72, 5.8, 5.7, 5.65, 5.6, 5.75, 6.04, 6.24, 6.0, 5.95,
    6.0, 6.05, 6.1, 6.2, 6.1, 6.05, 6.2, 6.1, 6.05, 6.0, 6.0, 6.05, 6.1, 6.28, 6.2, 6.1, 6.15, 6.2, 6.3, 6.2,
    6.2, 6.3, 6.5, 6.35, 6.1, 5.96, 6.3, 6.6, 6.3, 5.9, 5.8, 6.1, 6.37, 6.6, 6.74, 6.5, 6.3, 6.1, 6.0, 6.2,
    6.45, 6.5, 6.4, 6.3, 6.16, 6.25, 6.3, 6.2, 6.25, 6.3, 6.4, 6.49, 6.5, 6.7, 6.86, 6.9, 6.9, 6.8, 6.7, 6.6,
    6.53, 6.6, 6.75, 6.8, 6.7, 6.65, 6.7, 6.61, 6.8, 6.94, 6.9, 6.8, 6.75, 6.7, 6.85, 7.0, 7.02, 6.9, 6.85, 6.78,
    6.8, 6.9, 7.02, 7.0, 6.95, 7.05, 7.14, 7.1, 7.15, 7.25, 7.3, 7.35, 7.25, 7.19, 7.3, 7.5, 7.4, 7.3, 7.35, 7.3
]
const stdvPPE = [
    0.97, 1.00, 1.02, 0.99, 1.03, 1.01, 0.98, 1.00, 1.04, 1.02, 0.99, 1.01, 1.05, 1.00, 0.98, 1.02, 1.00, 0.97, 1.01, 1.03,
    1.00, 0.98, 1.02, 1.04, 1.01, 0.99, 1.03, 1.00, 0.97, 1.01, 1.03, 1.00, 0.98, 1.02, 1.04, 1.01, 0.99, 1.02, 1.00, 0.98,
    1.01, 1.03, 1.00, 0.98, 1.02, 1.04, 1.01, 0.99, 1.02, 1.00, 0.97, 1.01, 1.03, 1.00, 0.98, 1.02, 1.04, 1.01, 0.99, 1.02,
    1.00, 0.98, 1.01, 1.03, 1.00, 0.97, 1.01, 1.04, 1.02, 0.99, 1.02, 1.00, 0.98, 1.01, 1.03, 1.00, 0.97, 1.01, 1.04, 1.02,
    0.99, 1.02, 1.00, 0.98, 1.01, 1.03, 1.00, 0.98, 1.02, 1.04, 1.01, 0.99, 1.02, 1.00, 0.97, 1.01, 1.03, 1.00, 0.98, 1.02,
    1.04, 1.01, 0.99, 1.02, 1.00, 0.98, 1.01, 1.03, 1.00, 0.97, 1.01, 1.04, 1.02, 0.99, 1.02, 1.00, 0.98, 1.01, 1.03, 1.00,
    0.98, 1.02, 1.04, 1.01, 0.99, 1.02, 1.00, 0.97, 1.01, 1.03, 1.00, 0.98, 1.02, 1.04, 1.01, 0.99, 1.02, 1.00, 0.98, 1.01,
    1.03, 1.00, 0.98, 1.02, 1.04, 1.01, 0.99, 1.02, 1.00, 0.98, 1.01, 1.03, 1.00, 0.98, 1.02, 1.04, 1.01, 1.00, 1.02, 1.03,
    1.01, 1.04, 1.02, 1.00, 1.03, 1.05, 1.02, 1.00, 1.03, 1.01, 0.99, 1.02, 1.04, 1.01, 1.00, 1.03, 1.05, 1.02, 1.00, 1.03,
    1.05, 1.02, 1.00, 1.03, 1.06, 1.03, 1.01, 1.04, 1.02, 1.00, 1.03, 1.05, 1.02, 1.00, 1.03, 1.06, 1.03, 1.01, 1.04, 1.02,
    1.00, 1.03, 1.05, 1.02, 1.00, 1.04, 1.06, 1.03, 1.01, 1.04, 1.02, 1.00, 1.03, 1.05, 1.02, 1.00, 1.04, 1.06, 1.03, 1.01,
    1.04, 1.02, 1.00, 1.03, 1.05, 1.02, 1.00, 1.04, 1.06, 1.03, 1.01, 1.04, 1.02, 1.00, 1.03, 1.05, 1.02, 1.04, 1.06, 1.03
]

const ppeData = [ppe0, ppe1, ppe2, ppe3, ppe4, ppe5, ppe6, ppe7, ppe8, ppe9, ppe10, ppe11, ppe12, ppe13, ppe14, ppe15, ppe16]

const years = []
for (let y = firstYear; y <= lastYear; y++) years.push(String(y))

const meanPlus = meanPPE.map((m, i) => +(m + stdvPPE[i]).toFixed(2))
const meanMinus = meanPPE.map((m, i) => +(m - stdvPPE[i]).toFixed(2))

const fontFamily = '"Liberation Sans", Arial, sans-serif'

var datasets = []
ppeData.forEach((d, i) => {
    datasets.push({ label: seriesNames[i], data: d, borderColor: seriesColors[i], borderWidth: 3 })
})
datasets.push({ label: 'MEAN PPE', data: meanPPE, borderColor: '#000000', borderWidth: 6 })
datasets.push({ label: 'MEAN PPE+STDV 1.0', data: meanPlus, borderColor: '#FF0000', borderWidth: 4 })
datasets.push({ label: 'MEAN PPE-STDV 1.0', data: meanMinus, borderColor: '#FF0000', borderWidth: 4 })

// excel paints later series over earlier ones
datasets.forEach((ds, i) => {
    ds.order = -i
    ds.pointRadius = 0
    ds.tension = 0
    ds.fill = false
    ds.borderJoinStyle = 'round'
    ds.borderCapStyle = 'round'
})

const plotArea = {
    id: 'plotArea',
    beforeDraw(chart) {
        const { ctx, chartArea } = chart
        ctx.save()
        ctx.fillStyle = '#C0C0C0'
        ctx.fillRect(chartArea.left, chartArea.top, chartArea.width, chartArea.height)
        ctx.strokeStyle = '#606060'
        ctx.lineWidth = 2
        ctx.strokeRect(chartArea.left, chartArea.top, chartArea.width, chartArea.height)
        ctx.restore()
    }
}

const myChart = new Chart(document.getElementById('myChart'), {
    type: 'line',
    data: { labels: years, datasets: datasets },
    plugins: [plotArea],
    options: {
        responsive: false,
        animation: false,
        devicePixelRatio: 1,
        layout: { padding: { top: 18, right: 14, left: 0, bottom: 0 } },
        plugins: { legend: { display: false }, tooltip: { enabled: false } },
        scales: {
            x: {
                offset: false,
                afterFit: (s) => { s.height = 110 },
                border: { color: '#000', width: 2 },
                grid: {
                    drawOnChartArea: false,
                    drawTicks: true,
                    tickLength: 7,
                    tickWidth: 1.5,
                    tickColor: (c) => (c.index % 5 === 0 ? '#000' : 'rgba(0,0,0,0)')
                },
                ticks: {
                    autoSkip: false,
                    maxRotation: 45,
                    minRotation: 45,
                    padding: 6,
                    labelOffset: -4,
                    color: '#000',
                    font: { family: fontFamily, size: 20, weight: 'bold' },
                    callback: (v, i) => (i % 14 === 0 ? years[i] : '')
                },
                title: {
                    display: true,
                    text: 'Years',
                    color: '#000',
                    font: { family: fontFamily, size: 20, weight: 'bold' },
                    padding: { top: 0, bottom: 7 }
                }
            },
            y: {
                min: 0,
                max: 12,
                afterFit: (s) => { s.width = 102 },
                afterBuildTicks: (s) => { s.ticks = yTicks.map(v => ({ value: v })) },
                border: { color: '#000', width: 2 },
                grid: { drawOnChartArea: false, drawTicks: true, tickLength: 7, tickWidth: 1.5, tickColor: '#000' },
                ticks: {
                    padding: 9,
                    color: '#000',
                    font: { family: fontFamily, size: 20, weight: 'bold' },
                    callback: (v) => Number(v).toFixed(2)
                },
                title: {
                    display: true,
                    text: 'Rainfall (mm/day)',
                    color: '#000',
                    font: { family: fontFamily, size: 17, weight: 'bold' },
                    padding: { top: 8, bottom: 0 }
                }
            }
        }
    }
})

// legend as a 3 column grid, like the excel one
const legendBox = document.getElementById('legend')
datasets.forEach((ds) => {
    const item = document.createElement('div')
    item.className = 'item'
    const sw = document.createElement('span')
    sw.className = 'sw'
    sw.style.background = ds.borderColor
    if (ds.label === 'MEAN PPE') sw.style.height = '4px'
    const txt = document.createElement('span')
    txt.textContent = ds.label
    item.appendChild(sw)
    item.appendChild(txt)
    legendBox.appendChild(item)
})
</script>
</body>
</html>
